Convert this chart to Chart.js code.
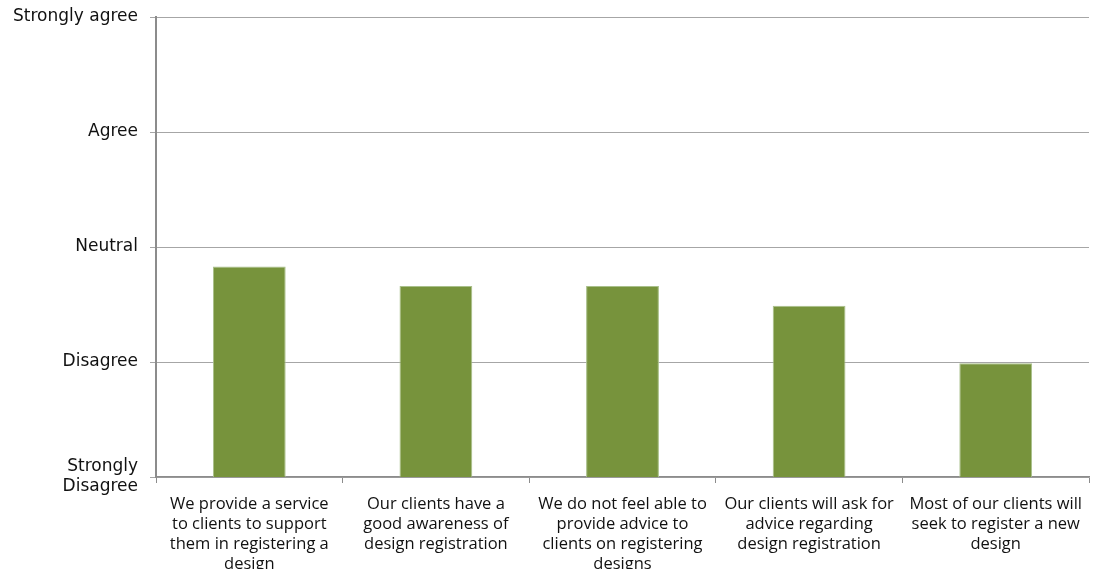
<!DOCTYPE html>
<html>
<head>
<meta charset="utf-8">
<script src="https://cdn.jsdelivr.net/npm/chart.js@4"></script>
<style>
html,body{margin:0;padding:0;background:#fff;}
#wrap{width:1094px;height:569px;}
</style>
</head>
<body>
<div id="wrap"><canvas id="c" width="1094" height="569"></canvas></div>
<script>
const categories = [
  ["We provide a service", "to clients to support", "them in registering a", "design"],
  ["Our clients have a", "good awareness of", "design registration"],
  ["We do not feel able to", "provide advice to", "clients on registering", "designs"],
  ["Our clients will ask for", "advice regarding", "design registration"],
  ["Most of our clients will", "seek to register a new", "design"]
];
const values = [2.83, 2.66, 2.66, 2.49, 1.99];
const yTickLabels = {1: ["Strongly", "Disagree"], 2: "Disagree", 3: "Neutral", 4: "Agree", 5: "Strongly agree"};

new Chart(document.getElementById('c'), {
  type: 'bar',
  data: {
    labels: categories,
    datasets: [{
      data: values,
      backgroundColor: '#77933C',
      borderColor: '#A9C08A',
      borderWidth: 1,
      barPercentage: 0.39,
      categoryPercentage: 1.0
    }]
  },
  options: {
    responsive: false,
    animation: false,
    layout: {padding: {left: 0, right: 5, top: 17, bottom: 0}},
    plugins: {legend: {display: false}, tooltip: {enabled: false}},
    scales: {
      x: {
        grid: {drawOnChartArea: false, tickLength: 6, color: '#8c8c8c', offset: true},
        border: {color: '#8c8c8c', width: 1.5},
        ticks: {
          color: '#111',
          font: {family: 'Open Sans', size: 16.5, lineHeight: '20px'},
          padding: 11,
          maxRotation: 0,
          autoSkip: false
        },
        afterFit: s => { s.height = 92; }
      },
      y: {
        min: 1, max: 5,
        grid: {color: '#a6a6a6', tickLength: 6, lineWidth: 1},
        border: {color: '#8c8c8c', width: 2},
        ticks: {
          stepSize: 1,
          color: '#111',
          font: {family: 'DejaVu Sans', size: 17, lineHeight: '20px'},
          padding: 12,
          callback: v => yTickLabels[v]
        },
        afterFit: s => { s.width = 156; s.paddingTop = 0; s.paddingBottom = 0; }
      }
    }
  }
});
</script>
</body>
</html>
